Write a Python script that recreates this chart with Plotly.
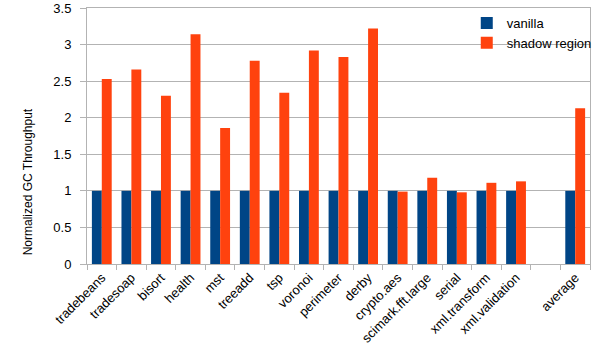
import plotly.graph_objects as go

categories = ["tradebeans", "tradesoap", "bisort", "health", "mst", "treeadd", "tsp",
              "voronoi", "perimeter", "derby", "crypto.aes", "scimark.fft.large",
              "serial", "xml.transform", "xml.validation", " ", "average"]
vanilla = [1, 1, 1, 1, 1, 1, 1, 1, 1, 1, 1, 1, 1, 1, 1, None, 1]
shadow_region = [2.53, 2.66, 2.30, 3.14, 1.86, 2.78, 2.34, 2.92, 2.83, 3.22,
                 0.99, 1.18, 0.98, 1.11, 1.13, None, 2.13]
y_ticks = [0, 0.5, 1, 1.5, 2, 2.5, 3, 3.5]
y_title = "Normalized GC Throughput"

fig = go.Figure()
fig.add_bar(x=categories, y=vanilla, name="vanilla", marker_color="#004586",
            marker_line_width=0)
fig.add_bar(x=categories, y=shadow_region, name="shadow region", marker_color="#ff420e",
            marker_line_width=0)

grid = "#b3b3b3"
fig.update_layout(
    width=605, height=364,
    margin=dict(l=87, r=13, t=8, b=100),
    paper_bgcolor="white", plot_bgcolor="white",
    barmode="group", bargap=0.33, bargroupgap=0,
    font=dict(family="Liberation Sans, Arial, sans-serif", size=13, color="#000000"),
    showlegend=True,
    legend=dict(x=0.755, y=1.0, xanchor="left", yanchor="top",
                bgcolor="rgba(0,0,0,0)", font=dict(size=13),
                itemwidth=30, tracegroupgap=0),
)
fig.update_xaxes(
    type="category", tickson="boundaries", ticks="outside", ticklen=5,
    tickcolor=grid, tickangle=-45, showline=True, linecolor=grid, linewidth=1,
    mirror=True, showgrid=False, tickfont=dict(size=13), automargin=False,
)
fig.update_yaxes(
    range=[0, 3.5], tickvals=y_ticks, ticks="outside", ticklen=6, tickcolor=grid,
    showline=True, linecolor=grid, linewidth=1, mirror=True,
    showgrid=True, gridcolor=grid, gridwidth=1, zeroline=False,
    tickfont=dict(size=13), automargin=False, ticklabeloverflow="allow",
    ticklabelstandoff=6,
)
fig.add_annotation(text=y_title, textangle=-90, xref="paper", yref="paper",
                   x=-0.1168, y=0.32, showarrow=False, font=dict(size=12),
                   xanchor="center", yanchor="middle")
fig.write_html("out.html", config={"displayModeBar": False},
               post_script="document.body.style.margin='0';")
